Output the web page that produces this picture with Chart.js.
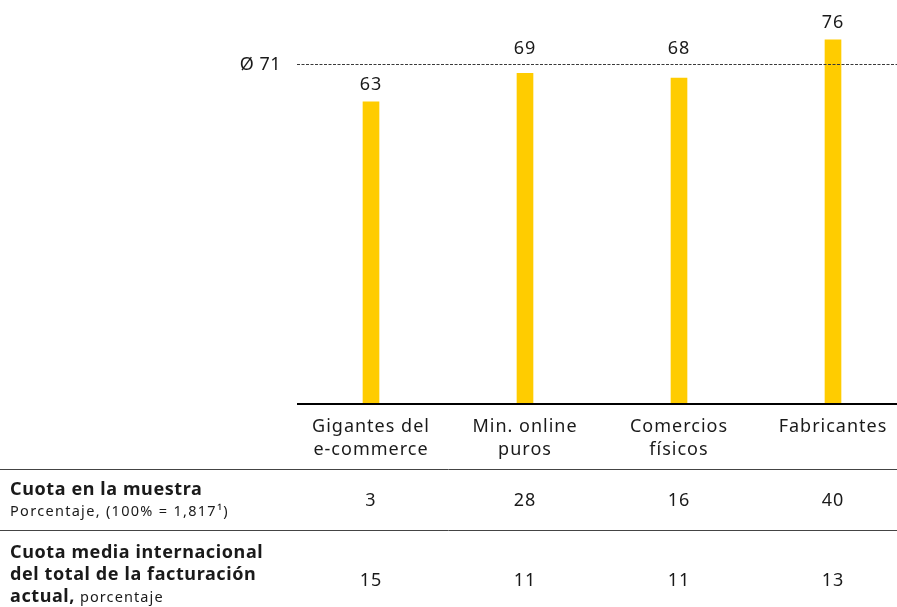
<!DOCTYPE html>
<html lang="es">
<head>
<meta charset="utf-8">
<title>Cuota de facturación</title>
<script src="https://cdn.jsdelivr.net/npm/chart.js@4.4.1/dist/chart.umd.min.js"></script>
<style>
    html, body {
        margin: 0;
        padding: 0;
        background: #ffffff;
    }
    #chart {
        display: block;
    }
</style>
</head>
<body>
<canvas id="chart" width="897" height="607"></canvas>
<script>
// Datos
const categorias = [
    ['Gigantes del', 'e-commerce'],
    ['Min. online', 'puros'],
    ['Comercios', 'físicos'],
    ['Fabricantes']
];
const valores = [63, 69, 68, 76];
const media = 71;
const cuotaMuestra = [3, 28, 16, 40];
const cuotaFacturacion = [15, 11, 11, 13];

const amarillo = '#ffcc00';
const texto = '#1a1a1a';
const fuente = '"Noto Sans", "Open Sans", sans-serif';

// Dibuja linea media, etiquetas, eje y tabla inferior
const tablaPlugin = {
    id: 'tabla',
    afterDatasetsDraw(chart) {
        const ctx = chart.ctx;
        const x = chart.scales.x;
        const y = chart.scales.y;
        const area = chart.chartArea;

        ctx.save();

        // linea de media
        const yMedia = Math.round(y.getPixelForValue(media)) + 0.5;
        ctx.strokeStyle = '#3a3a3a';
        ctx.lineWidth = 1;
        ctx.setLineDash([3, 1.5]);
        ctx.beginPath();
        ctx.moveTo(area.left, yMedia);
        ctx.lineTo(area.right, yMedia);
        ctx.stroke();
        ctx.setLineDash([]);

        ctx.fillStyle = texto;
        ctx.font = '18px ' + fuente;
        ctx.letterSpacing = '0.5px';
        ctx.textAlign = 'right';
        ctx.textBaseline = 'middle';
        ctx.fillText('Ø ' + media, 281, yMedia);

        // valores sobre las barras (encima de la linea si chocan)
        ctx.letterSpacing = '1px';
        ctx.textAlign = 'center';
        ctx.textBaseline = 'alphabetic';
        valores.forEach((v, i) => {
            let base = y.getPixelForValue(v) - 12;
            if (base > yMedia - 4 && base - 14 < yMedia + 4) {
                base = yMedia - 11;
            }
            ctx.fillText(String(v), x.getPixelForValue(i), base);
        });

        // eje
        ctx.strokeStyle = '#000';
        ctx.lineWidth = 2;
        ctx.beginPath();
        ctx.moveTo(area.left, area.bottom + 1);
        ctx.lineTo(area.right, area.bottom + 1);
        ctx.stroke();

        // categorias
        ctx.font = '18px ' + fuente;
        categorias.forEach((lineas, i) => {
            lineas.forEach((l, j) => {
                ctx.fillText(l, x.getPixelForValue(i), 432 + j * 23);
            });
        });

        // separadores
        ctx.strokeStyle = '#444';
        ctx.lineWidth = 1;
        [469.5, 530.5].forEach(ys => {
            ctx.beginPath();
            ctx.moveTo(0, ys);
            ctx.lineTo(chart.width, ys);
            ctx.stroke();
        });

        // fila 1
        cuotaMuestra.forEach((v, i) => {
            ctx.fillText(String(v), x.getPixelForValue(i), 506);
        });
        // fila 2
        cuotaFacturacion.forEach((v, i) => {
            ctx.fillText(String(v), x.getPixelForValue(i), 586);
        });

        ctx.textAlign = 'left';
        ctx.font = 'bold 18px ' + fuente;
        ctx.letterSpacing = '0.6px';
        ctx.fillText('Cuota en la muestra', 10, 495);
        ctx.font = '14.5px ' + fuente;
        ctx.letterSpacing = '1.3px';
        ctx.fillText('Porcentaje, (100% = 1,817¹)', 10, 516);

        ctx.font = 'bold 18px ' + fuente;
        ctx.letterSpacing = '0.6px';
        ctx.fillText('Cuota media internacional', 10, 558);
        ctx.fillText('del total de la facturación', 10, 580);
        ctx.fillText('actual,', 10, 602);
        const w = ctx.measureText('actual,').width;
        ctx.font = '14.5px ' + fuente;
        ctx.letterSpacing = '1.1px';
        ctx.fillText(' porcentaje', 10 + w, 602);

        ctx.restore();
    }
};

const ctx = document.getElementById('chart').getContext('2d');

new Chart(ctx, {
    type: 'bar',
    data: {
        datasets: [{
            data: valores.map((v, i) => ({ x: i, y: v })),
            backgroundColor: amarillo,
            borderWidth: 0,
            barThickness: 16
        }]
    },
    options: {
        responsive: false,
        animation: false,
        layout: {
            padding: { left: 297, right: 0, top: 3, bottom: 204 }
        },
        plugins: {
            legend: { display: false },
            tooltip: { enabled: false }
        },
        scales: {
            x: {
                type: 'linear',
                display: false,
                offset: false,
                min: -0.4805,
                max: 3.4156
            },
            y: {
                display: false,
                min: 0,
                max: 83.7
            }
        }
    },
    plugins: [tablaPlugin]
});
</script>
</body>
</html>
